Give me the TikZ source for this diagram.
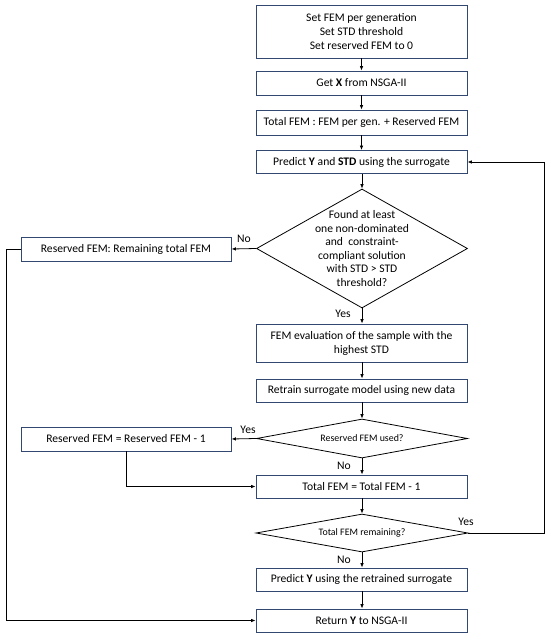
\documentclass[tikz,border=0pt]{standalone}
\usepackage{fontspec}
\setmainfont{Carlito}
\usetikzlibrary{shapes.geometric,arrows.meta}
\definecolor{boxline}{RGB}{50,72,112}
\tikzset{
  pbox/.style={draw=boxline, line width=0.9pt, fill=white, minimum width=211pt, inner sep=2pt, align=center, font=\fontsize{11.6}{14}\selectfont},
  lbox/.style={pbox, minimum width=210pt, minimum height=24pt},
  dia/.style={draw=black, line width=0.8pt, diamond, inner sep=0pt, minimum width=211pt},
  dtext/.style={align=center, font=\fontsize{11.6}{13.6}\selectfont},
  stext/.style={align=center, font=\fontsize{9.9}{12}\selectfont},
  lab/.style={font=\fontsize{11.6}{14}\selectfont, inner sep=0pt},
  arr/.style={draw=black, line width=0.8pt, -{Latex[length=4.5pt,width=3.6pt]}},
  ln/.style={draw=black, line width=0.8pt}
}
\begin{document}
\begin{tikzpicture}[x=1pt,y=-1pt]
\useasboundingbox (0,0) rectangle (550,640);
% main column
\node[pbox, minimum height=53pt] (b1) at (361.5,31.5) {Set FEM per generation\\Set STD threshold\\Set reserved FEM to 0};
\node[pbox, minimum height=24pt] (b2) at (361.5,83) {Get \textbf{X} from NSGA-II};
\node[pbox, minimum height=25pt] (b3) at (361.5,122.5) {Total FEM : FEM per gen. + Reserved FEM};
\node[pbox, minimum height=23pt] (b4) at (361.5,162) {Predict \textbf{Y} and \textbf{STD} using the surrogate};
\node[dia, minimum height=119pt] (d1) at (362,248.5) {};
\node[dtext] (t1) at (362,248.5) {Found at least\\one non-dominated\\and\ \ constraint-\\compliant solution\\with STD {>} STD\\threshold?};
\node[pbox, minimum height=38pt] (b5) at (361.5,343) {FEM evaluation of the sample with the\\highest STD};
\node[pbox, minimum height=23pt] (b6) at (361.5,390.5) {Retrain surrogate model using new data};
\node[dia, minimum height=39pt] (d2) at (362,438.5) {};
\node[stext] (t2) at (362,438.5) {Reserved FEM used?};
\node[pbox, minimum height=23pt] (b7) at (361.5,486.5) {Total FEM = Total FEM - 1};
\node[dia, minimum height=38pt, minimum width=212pt] (d3) at (362,533) {};
\node[stext] (t3) at (362,533) {Total FEM remaining?};
\node[pbox, minimum height=23pt] (b8) at (361.5,579.5) {Predict \textbf{Y} using the retrained surrogate};
\node[pbox, minimum height=23pt] (b9) at (361.5,620.5) {Return \textbf{Y} to NSGA-II};
% left boxes
\node[lbox] (l1) at (126,249) {Reserved FEM: Remaining total FEM};
\node[lbox] (l2) at (126,439) {Reserved FEM = Reserved FEM - 1};
% coordinates
\coordinate (cl1) at (6,249);
\coordinate (cl2) at (6,620.5);
\coordinate (cr1) at (544,533);
\coordinate (cr2) at (544,162);
\coordinate (cm) at (126,486.5);
% vertical connectors
\draw[arr] (b1) -- (b2);
\draw[arr] (b2) -- (b3);
\draw[arr] (b3) -- (b4);
\draw[arr] (b4.south -| d1.north) -- (d1.north);
\draw[arr] (d1.south) -- (b5.north -| d1.south);
\draw[arr] (b5.south -| d1.south) -- (b6.north -| d1.south);
\draw[arr] (b6.south -| d2.north) -- (d2.north);
\draw[arr] (d2.south) -- (b7.north -| d2.south);
\draw[arr] (b7.south -| d3.north) -- (d3.north);
\draw[arr] (d3.south) -- (b8.north -| d3.south);
\draw[arr] (b8.south -| d3.south) -- (b9.north -| d3.south);
% side connectors
\draw[arr] (d1.west) -- (l1.east);
\draw[arr] (d2.west) -- (l2.east);
\draw[arr] (l1.west) -- (cl1) -- (cl2) -- (b9.west);
\draw[arr] (l2.south) -- (cm) -- (b7.west);
\draw[arr] (d3.east) -- (cr1) -- (cr2) -- (b4.east);
% labels
\node[lab] (n1) at (244,239) {No};
\node[lab] (y1) at (343,314) {Yes};
\node[lab] (y2) at (248,430) {Yes};
\node[lab] (n2) at (344,466) {No};
\node[lab] (y3) at (466,522) {Yes};
\node[lab] (n3) at (344,560) {No};
\end{tikzpicture}
\end{document}
